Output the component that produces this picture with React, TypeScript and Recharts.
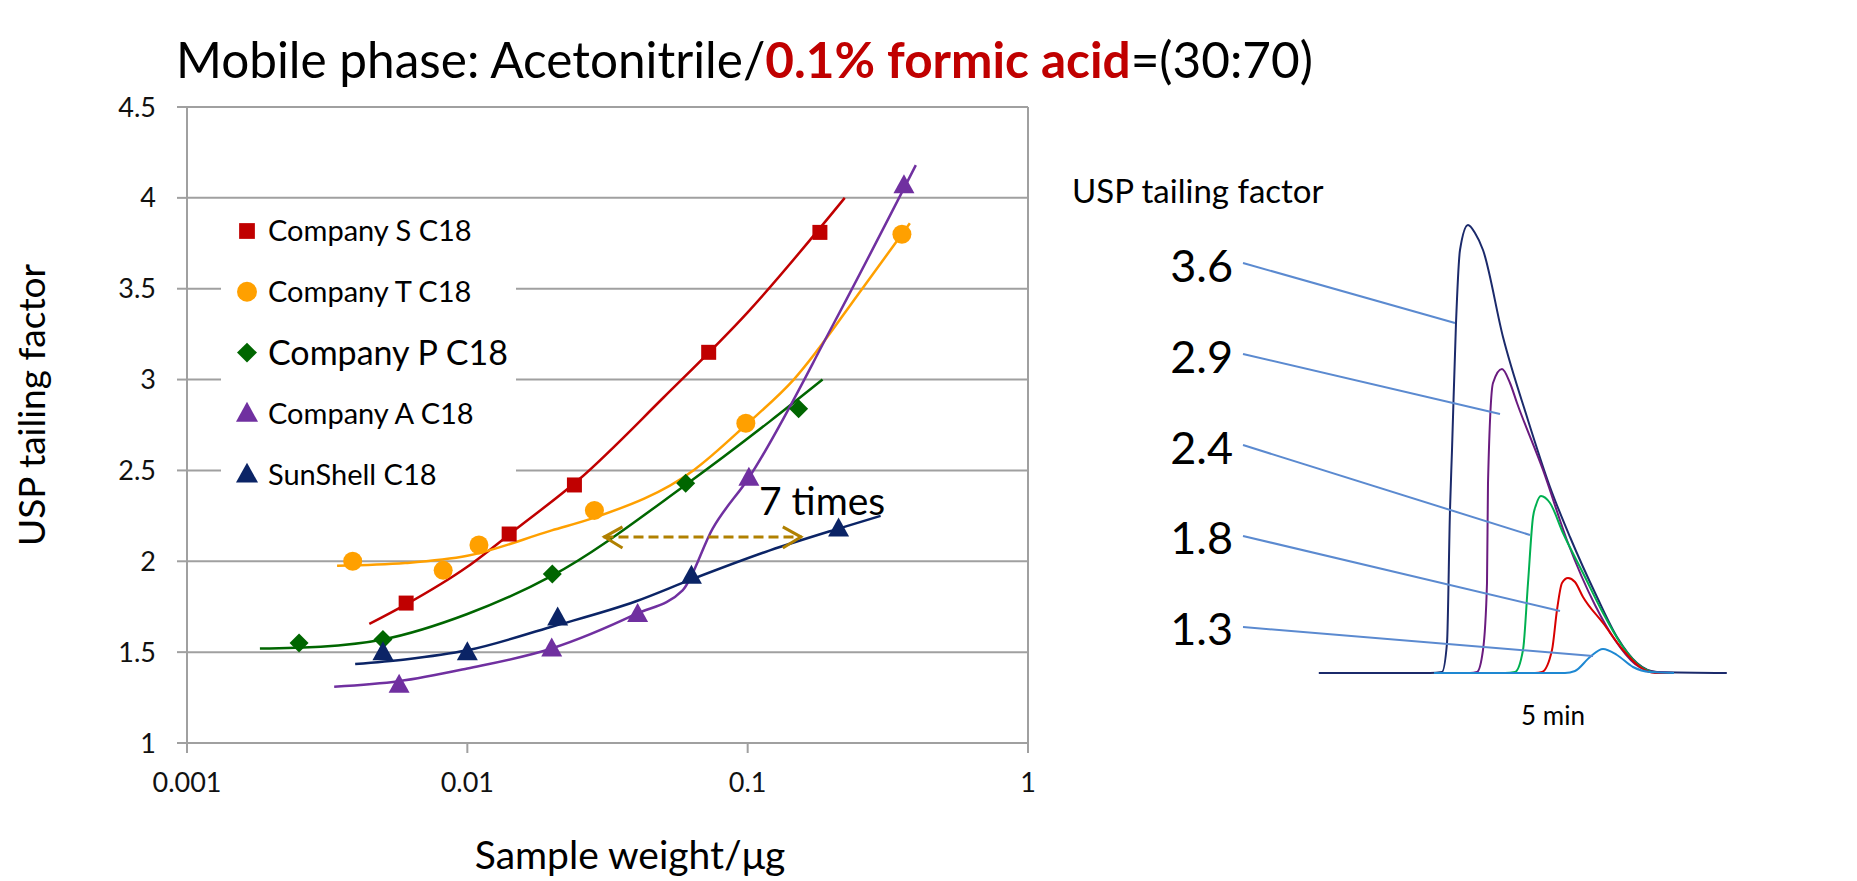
import React from 'react';
import {
  ComposedChart,
  LineChart,
  Line,
  Scatter,
  XAxis,
  YAxis,
  CartesianGrid,
  ReferenceLine,
} from 'recharts';

const FONT = 'Lato, "Open Sans", sans-serif';
const GRID = '#A0A0A0';

// ---- left panel: sample weight (µg, log) vs USP tailing factor ----
const xTicks = [0.001, 0.01, 0.1, 1];
const xTickLabels = ['0.001', '0.01', '0.1', '1'];
const yTicks = [1, 1.5, 2, 2.5, 3, 3.5, 4, 4.5];

const sWeight = [0.00605, 0.0141, 0.0241, 0.0726, 0.181];
const sTailing = [1.77, 2.15, 2.42, 3.15, 3.81];
const sFitWeight = [0.00447, 0.006, 0.01, 0.015, 0.025, 0.05, 0.1, 0.222];
const sFitTailing = [1.655, 1.76, 1.97, 2.18, 2.45, 2.9, 3.37, 4.0];

const tWeight = [0.0039, 0.0082, 0.011, 0.0284, 0.0985, 0.355];
const tTailing = [2.0, 1.95, 2.09, 2.28, 2.76, 3.8];
const tFitWeight = [0.00343, 0.006, 0.01, 0.02, 0.0284, 0.064, 0.0985, 0.146, 0.259, 0.379];
const tFitTailing = [1.975, 1.99, 2.03, 2.17, 2.24, 2.5, 2.75, 3.0, 3.51, 3.86];

const pWeight = [0.00251, 0.005, 0.0201, 0.0601, 0.152];
const pTailing = [1.55, 1.57, 1.93, 2.43, 2.84];
const pFitWeight = [0.00182, 0.003, 0.005, 0.01, 0.02, 0.06, 0.12, 0.185];
const pFitTailing = [1.52, 1.53, 1.57, 1.71, 1.92, 2.42, 2.77, 3.0];

const aWeight = [0.00571, 0.02, 0.0405, 0.101, 0.361];
const aTailing = [1.32, 1.52, 1.71, 2.46, 4.07];
const aFitWeight = [0.00335, 0.0057, 0.01, 0.02, 0.04, 0.0586, 0.075, 0.101, 0.203, 0.398];
const aFitTailing = [1.31, 1.34, 1.41, 1.52, 1.71, 1.84, 2.18, 2.46, 3.31, 4.18];

const sunWeight = [0.005, 0.01, 0.021, 0.063, 0.211];
const sunTailing = [1.5, 1.5, 1.69, 1.92, 2.18];
const sunFitWeight = [0.00398, 0.006, 0.01, 0.02, 0.04, 0.063, 0.12, 0.211, 0.298];
const sunFitTailing = [1.435, 1.46, 1.51, 1.64, 1.78, 1.9, 2.06, 2.18, 2.25];

// "7 times" arrow
const arrowWeight = [0.0306, 0.156];
const arrowTailing = 2.134;

// ---- right panel: chromatograms (time in min, signal) ----
const navyTime = [2.16, 3.55, 3.7, 3.7625, 3.8, 3.825, 3.875, 3.925, 4.025, 4.1125, 4.2125, 4.4625, 4.7625, 5.05, 5.3, 5.6375, 5.8875, 6.1375, 6.3875, 7.26];
const navySignal = [0, 0, 0.25, 7.5, 40.75, 55.75, 87.5, 105.75, 112, 110, 105.75, 84, 64, 46.5, 34, 19, 9, 2.5, 0.25, 0];
const purpleTime = [3.6, 4.05, 4.1375, 4.2125, 4.2625, 4.275, 4.3375, 4.45, 4.55, 4.6375, 4.9625, 5.275, 5.6125, 5.8625, 6.1125, 6.3625, 6.6];
const purpleSignal = [0, 0, 0.25, 5.75, 22.5, 47.5, 72.5, 76, 72.5, 67.5, 50.75, 32.5, 17, 8.25, 2.25, 0.25, 0];
const greenTime = [3.6, 4.4875, 4.6125, 4.7125, 4.775, 4.8375, 4.875, 4.9375, 5.05, 5.2125, 5.4625, 5.7125, 5.9625, 6.2125, 6.425, 6.6];
const greenSignal = [0, 0, 0.25, 5.75, 22.5, 39, 42, 44.25, 42.5, 35, 25, 15, 6.5, 1.25, 0, 0];
const redTime = [3.6, 4.8625, 4.95, 5.075, 5.1375, 5.2, 5.275, 5.3625, 5.4625, 5.7125, 5.9625, 6.175, 6.3625, 6.6];
const redSignal = [0, 0, 0.25, 5.75, 15.75, 22.5, 23.75, 22.75, 19, 12.5, 5.75, 1.5, 0, 0];
const blueTime = [3.6, 5.2375, 5.3625, 5.55, 5.7125, 5.8875, 6.0875, 6.3, 6.6];
const blueSignal = [0, 0, 0.5, 4, 6, 4.5, 1.5, 0.25, 0];

const tailingLabels = ['3.6', '2.9', '2.4', '1.8', '1.3'];
const leaderStartTime = 1.2125;
const leaderStartSignal = [102.5, 79.75, 57, 34.25, 11.5];
const leaderEndTime = [3.8625, 4.425, 4.8, 5.175, 5.5875];
const leaderEndSignal = [87.5, 64.75, 34.5, 15.5, 4.25];

const zip = (xs: number[], ys: number[]) => xs.map((x, i) => ({ x, y: ys[i] }));
const zipT = (ts: number[], ss: number[]) => ts.map((t, i) => ({ t, s: ss[i] }));

type Kind = 'square' | 'circle' | 'diamond' | 'triangle';

const series = [
  { name: 'Company S C18', color: '#C00000', kind: 'square' as Kind, pts: zip(sWeight, sTailing), fit: zip(sFitWeight, sFitTailing), fs: 29 },
  { name: 'Company T C18', color: '#FFA000', kind: 'circle' as Kind, pts: zip(tWeight, tTailing), fit: zip(tFitWeight, tFitTailing), fs: 29 },
  { name: 'Company P C18', color: '#006600', kind: 'diamond' as Kind, pts: zip(pWeight, pTailing), fit: zip(pFitWeight, pFitTailing), fs: 34 },
  { name: 'Company A C18', color: '#7030A0', kind: 'triangle' as Kind, pts: zip(aWeight, aTailing), fit: zip(aFitWeight, aFitTailing), fs: 29 },
  { name: 'SunShell C18', color: '#0B2466', kind: 'triangle' as Kind, pts: zip(sunWeight, sunTailing), fit: zip(sunFitWeight, sunFitTailing), fs: 29 },
];

const peaks = [
  { color: '#1B2A6B', data: zipT(navyTime, navySignal) },
  { color: '#6A1B7F', data: zipT(purpleTime, purpleSignal) },
  { color: '#00B050', data: zipT(greenTime, greenSignal) },
  { color: '#D80000', data: zipT(redTime, redSignal) },
  { color: '#1E88D2', data: zipT(blueTime, blueSignal) },
];

const Marker = ({ kind, cx, cy, fill, k = 1 }: { kind: Kind; cx: number; cy: number; fill: string; k?: number }) => {
  if (kind === 'square') return <rect x={cx - 7.5 * k} y={cy - 7.5 * k} width={15 * k} height={15 * k} fill={fill} />;
  if (kind === 'circle') return <circle cx={cx} cy={cy} r={9.5 * k} fill={fill} />;
  if (kind === 'diamond')
    return <polygon points={`${cx},${cy - 9.5 * k} ${cx + 9.5 * k},${cy} ${cx},${cy + 9.5 * k} ${cx - 9.5 * k},${cy}`} fill={fill} />;
  return <polygon points={`${cx},${cy - 11 * k} ${cx + 10.5 * k},${cy + 8 * k} ${cx - 10.5 * k},${cy + 8 * k}`} fill={fill} />;
};

const DoubleArrow = (props: any) => {
  const { x1, y1, x2, y2 } = props;
  const c = '#B08000';
  return (
    <g>
      <line x1={x1} y1={y1} x2={x2} y2={y2} stroke={c} strokeWidth={3} strokeDasharray="10 5" />
      <polyline points={`${x1 + 19},${y1 - 10} ${x1 + 1},${y1} ${x1 + 19},${y1 + 11}`} fill="none" stroke={c} strokeWidth={3} />
      <polyline points={`${x2 - 19},${y2 - 10} ${x2 - 1},${y2} ${x2 - 19},${y2 + 11}`} fill="none" stroke={c} strokeWidth={3} />
    </g>
  );
};

const tickStyle = { fontSize: 27, fill: '#111', fontFamily: FONT };

const App: React.FC = () => {
  return (
    <div style={{ position: 'absolute', left: 0, top: 0, width: 1857, height: 881, background: '#fff', overflow: 'hidden' }}>
      <div style={{ position: 'absolute', left: 0, top: 0 }}>
        <ComposedChart width={1060} height={881} margin={{ top: 107, right: 32, bottom: 98, left: 127 }}>
          <CartesianGrid vertical={false} stroke={GRID} strokeWidth={2} />
          <XAxis
            type="number"
            dataKey="x"
            scale="log"
            domain={[0.001, 1]}
            ticks={xTicks}
            allowDataOverflow
            tickFormatter={(v: number) => xTickLabels[xTicks.indexOf(v)] ?? String(v)}
            height={40}
            tickSize={10}
            tickMargin={20}
            tick={tickStyle}
            stroke={GRID}
            strokeWidth={2}
          />
          <YAxis
            type="number"
            dataKey="y"
            domain={[1, 4.5]}
            ticks={yTicks}
            allowDataOverflow
            width={60}
            tickSize={10}
            tickMargin={21}
            tick={tickStyle}
            stroke={GRID}
            strokeWidth={2}
          />
          <ReferenceLine x={1} stroke={GRID} strokeWidth={2} />
          {series.map(s => (
            <Line
              key={`fit-${s.name}`}
              data={s.fit}
              dataKey="y"
              type="monotone"
              stroke={s.color}
              strokeWidth={2.5}
              dot={false}
              isAnimationActive={false}
            />
          ))}
          {series.map(s => (
            <Scatter
              key={`pts-${s.name}`}
              data={s.pts}
              fill={s.color}
              isAnimationActive={false}
              shape={(p: any) => <Marker kind={s.kind} cx={p.cx} cy={p.cy} fill={s.color} />}
            />
          ))}
          <ReferenceLine
            segment={[
              { x: arrowWeight[0], y: arrowTailing },
              { x: arrowWeight[1], y: arrowTailing },
            ]}
            shape={DoubleArrow}
          />
        </ComposedChart>
      </div>

      <div style={{ position: 'absolute', left: 1106, top: 153 }}>
        <LineChart width={640} height={600} margin={{ top: 0, right: 0, bottom: 0, left: 0 }}>
          <XAxis type="number" dataKey="t" domain={[-0.5, 7.5]} hide allowDataOverflow />
          <YAxis type="number" dataKey="s" domain={[-20, 130]} hide allowDataOverflow />
          {peaks.map((p, i) => (
            <Line
              key={i}
              data={p.data}
              dataKey="s"
              type="monotone"
              stroke={p.color}
              strokeWidth={2}
              dot={false}
              isAnimationActive={false}
            />
          ))}
          {tailingLabels.map((l, i) => (
            <ReferenceLine
              key={l}
              ifOverflow="visible"
              segment={[
                { x: leaderStartTime, y: leaderStartSignal[i] },
                { x: leaderEndTime[i], y: leaderEndSignal[i] },
              ]}
              stroke="#5B8AD0"
              strokeWidth={2}
            />
          ))}
        </LineChart>
      </div>

      <svg width={1857} height={881} style={{ position: 'absolute', left: 0, top: 0, pointerEvents: 'none' }} fontFamily={FONT}>
        <text x={176} y={78} fontSize={49.5} fill="#000">
          Mobile phase: Acetonitrile/
          <tspan fill="#C00000" fontWeight="bold">0.1% formic acid</tspan>
          =(30:70)
        </text>
        <text transform="translate(45,405) rotate(-90)" textAnchor="middle" fontSize={37} fill="#000">
          USP tailing factor
        </text>
        <text x={630} y={869} textAnchor="middle" fontSize={39} fill="#000">
          Sample weight/μg
        </text>

        <rect x={221} y={206} width={295} height={292} fill="#fff" />
        {series.map((s, i) => {
          const cy = 231 + i * 60.8;
          return (
            <g key={s.name}>
              <Marker kind={s.kind} cx={247} cy={cy} fill={s.color} k={1.05} />
              <text x={268} y={cy + s.fs * 0.36} fontSize={s.fs} fill="#000">
                {s.name}
              </text>
            </g>
          );
        })}

        <text x={759} y={515} fontSize={39} fill="#000">
          7 times
        </text>

        <text x={1072} y={203} fontSize={33} fill="#000">
          USP tailing factor
        </text>
        {tailingLabels.map((l, i) => (
          <text key={l} x={1233} y={282 + i * 90.8} textAnchor="end" fontSize={45} fill="#000">
            {l}
          </text>
        ))}
        <text x={1553} y={725} textAnchor="middle" fontSize={26} fill="#000">
          5 min
        </text>
      </svg>
    </div>
  );
};

export default App;
